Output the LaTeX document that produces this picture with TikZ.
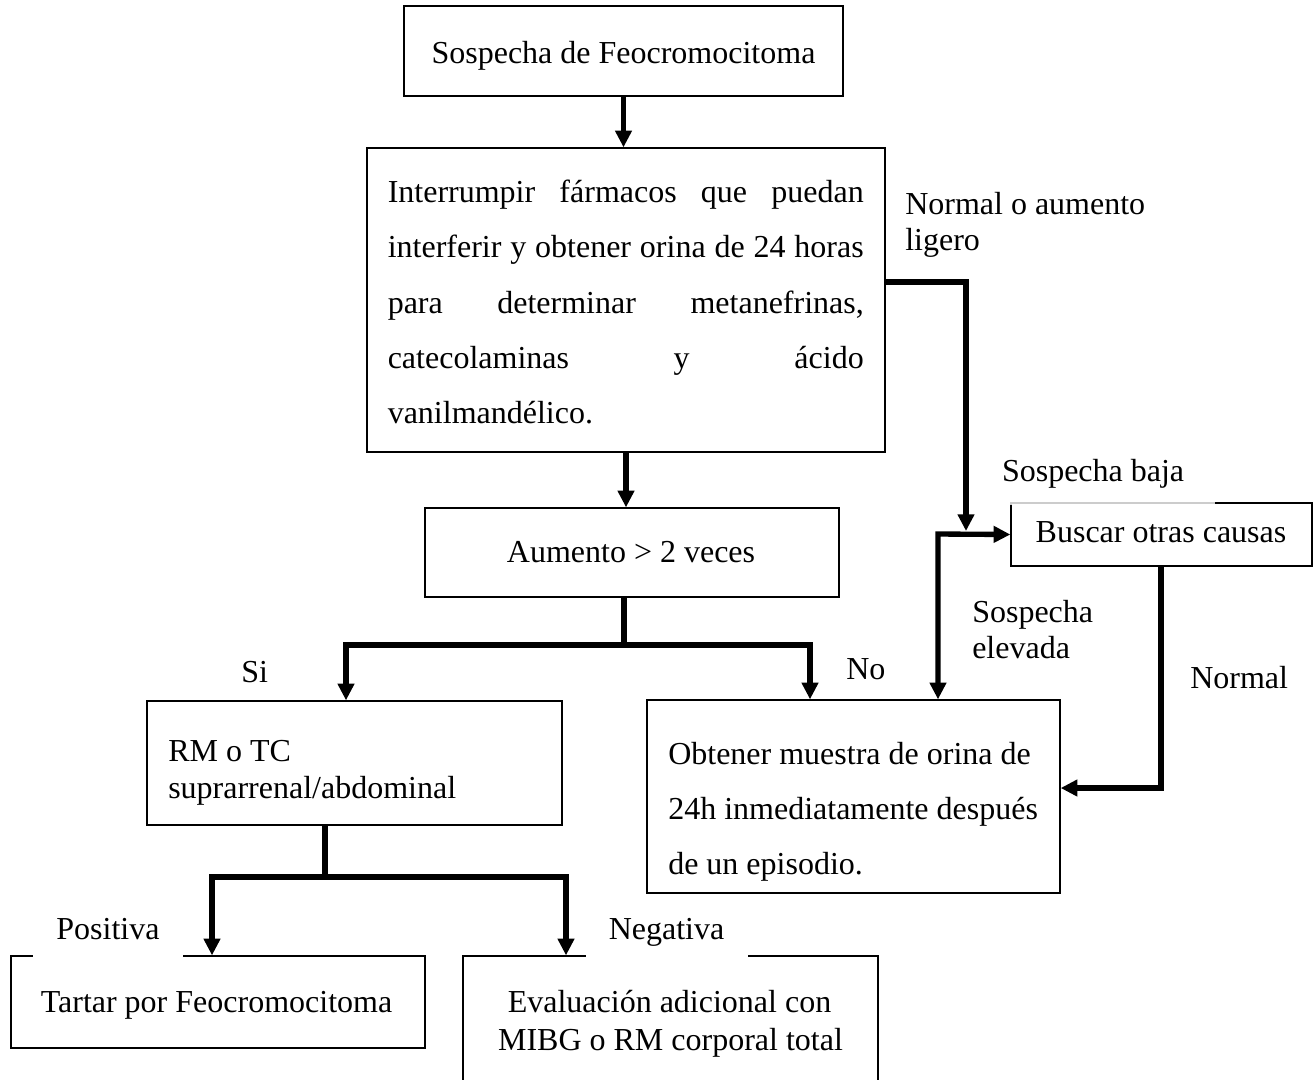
\documentclass[tikz,border=0pt]{standalone}
\usepackage{fontspec}
\setmainfont{Liberation Serif}
\usetikzlibrary{arrows.meta}
\newlength\px
\setlength\px{0.75pt}
\begin{document}
\begin{tikzpicture}[x=0.75pt,y=-0.75pt,
  box/.style={draw=black, line width=1pt, inner sep=0pt},
  txt/.style={font=\fontsize{24pt}{27.6pt}\selectfont, inner sep=0pt},
  cover/.style={txt, fill=white},
  ln/.style={line width=4pt},
  arr/.style={line width=4pt, -{Triangle[width=12pt,length=12.5pt]}},
  arrs/.style={line width=4pt, {Triangle[width=12pt,length=12.5pt]}-{Triangle[width=12pt,length=12.5pt]}}]
\path[fill=white] (0,0) rectangle (1316,1079);
\useasboundingbox (0,0) rectangle (1316,1079);

% boxes
\node[box, minimum width=439\px, minimum height=90\px]  (b1) at (623.5,51) {};
\node[box, minimum width=518\px, minimum height=304\px] (b2) at (626,300) {};
\node[box, minimum width=414\px, minimum height=89\px]  (b3) at (632,552.5) {};
\node[box, minimum width=415\px, minimum height=124\px] (b4) at (354.5,763) {};
\node[box, minimum width=413\px, minimum height=193\px] (b5) at (853.5,796.5) {};
\node[box, minimum width=301\px, minimum height=63\px]  (b6) at (1161.5,534.5) {};
\node[box, minimum width=414\px, minimum height=92\px]  (b7) at (218,1002) {};
\node[box, minimum width=415\px, minimum height=132\px] (b8) at (670.5,1022) {};

% box texts
\node[txt, anchor=base] (t1) at (623.5,63) {Sospecha de Feocromocitoma};
\node[txt, anchor=base west] (t2a) at (387.5,202) {\makebox[476\px][s]{Interrumpir fármacos que puedan}};
\node[txt, anchor=base west] (t2b) at (387.5,257.5) {\makebox[476\px][s]{interferir y obtener orina de 24 horas}};
\node[txt, anchor=base west] (t2c) at (387.5,313) {\makebox[476\px][s]{para determinar metanefrinas,}};
\node[txt, anchor=base west] (t2d) at (387.5,368) {\makebox[476\px][s]{catecolaminas y ácido}};
\node[txt, anchor=base west] (t2e) at (387.5,423) {vanilmandélico.};
\node[txt, anchor=base] (t3) at (631,562) {Aumento > 2 veces};
\node[txt, anchor=base west] (t4a) at (168,761) {RM o TC};
\node[txt, anchor=base west] (t4b) at (168,798) {suprarrenal/abdominal};
\node[txt, anchor=base west] (t5a) at (668,764) {Obtener muestra de orina de};
\node[txt, anchor=base west] (t5b) at (668,819) {24h inmediatamente después};
\node[txt, anchor=base west] (t5c) at (668,874) {de un episodio.};
\node[txt, anchor=base] (t6) at (1161,542) {Buscar otras causas};
\node[txt, anchor=base] (t7) at (216.5,1012) {Tartar por Feocromocitoma};
\node[txt, anchor=base] (t8a) at (669.5,1012) {Evaluación adicional con};
\node[txt, anchor=base] (t8b) at (670.5,1050) {MIBG o RM corporal total};

% labels
\node[txt, anchor=base west] (l1a) at (905,214) {Normal o aumento};
\node[txt, anchor=base west] (l1b) at (905,250) {ligero};
\node[txt, fill=white, fill opacity=0.8, text opacity=1,
      inner xsep=12\px, inner ysep=0pt, minimum height=62\px] (l2) at (1102.5,474) {\makebox[201\px][l]{Sospecha baja}};
\node[txt, anchor=base west] (l3a) at (972,622) {Sospecha};
\node[txt, anchor=base west] (l3b) at (972,658) {elevada};
\node[txt, anchor=base west] (l4) at (1190,688) {Normal};
\node[txt, anchor=base west] (l5) at (241,682) {Si};
\node[txt, anchor=base west] (l6) at (846,679) {No};
\node[cover, minimum width=150\px, minimum height=58\px] (l7) at (108,929) {Positiva};
\node[cover, minimum width=162\px, minimum height=58\px] (l8) at (666.5,932.5) {Negativa};

% junction points
\coordinate (k1) at (966,282);
\coordinate (j2) at (938,534);
\coordinate (m1) at (624,645);
\coordinate (aSi) at (346,645);
\coordinate (aNo) at (810,645);
\coordinate (m2) at (325,877);
\coordinate (pA) at (212,877);
\coordinate (pB) at (566,877);
\coordinate (n1) at (1161,788);

% connectors
\draw[arr] (b1.south) -- (b1.south |- b2.north);
\draw[arr, shorten >=3\px] (b2.east |- k1) -- (k1) -- (k1 |- j2);
\draw[arrs] (j2 |- b5.north) -- (j2) -- (b6.west);
\draw[arr] (b2.south) -- (b2.south |- b3.north);
\draw[ln] (b3.south -| m1) -- (m1);
\draw[arrs] (aSi |- b4.north) -- (aSi) -- (aNo) -- (aNo |- b5.north);
\draw[ln] (b4.south -| m2) -- (m2);
\draw[arrs] (pA |- b7.north) -- (pA) -- (pB) -- (pB |- b8.north);
\draw[arr] (b6.south -| n1) -- (n1) -- (n1 -| b5.east);
\end{tikzpicture}
\end{document}
